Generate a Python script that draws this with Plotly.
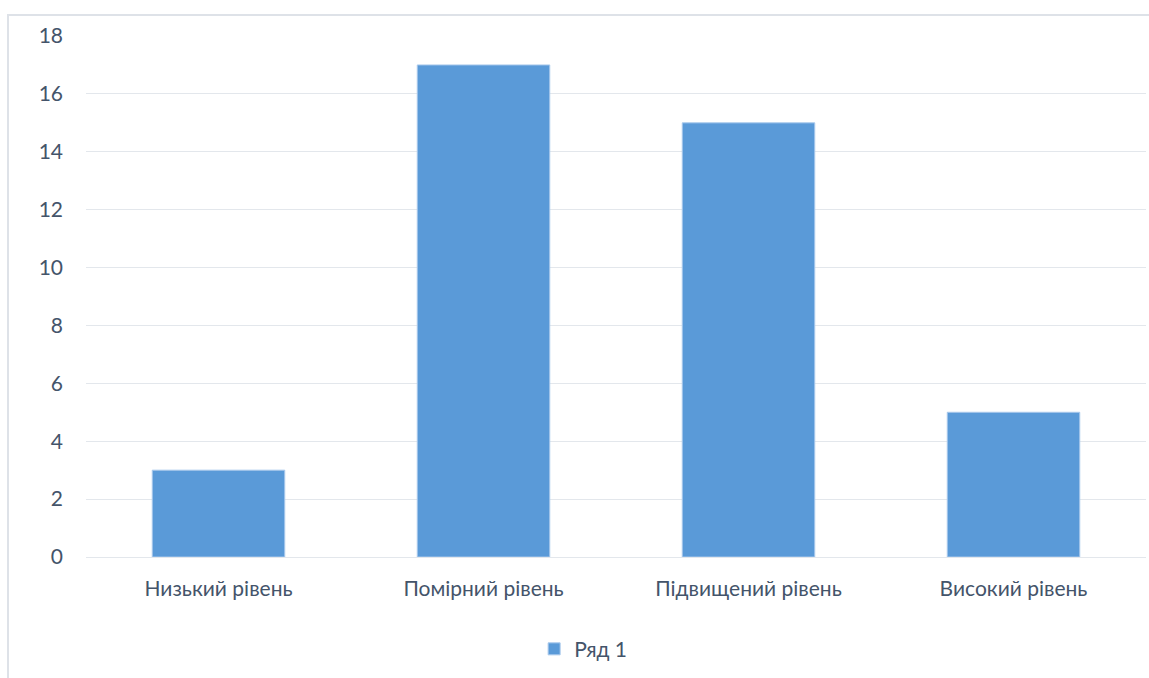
import plotly.graph_objects as go

categories = ["Низький рівень", "Помірний рівень", "Підвищений рівень", "Високий рівень"]
values = [3, 17, 15, 5]
series_name = "Ряд 1"
y_ticks = [0, 2, 4, 6, 8, 10, 12, 14, 16, 18]

text_color = "#44546A"
font_family = "Lato, Open Sans, sans-serif"

fig = go.Figure()
fig.add_trace(go.Bar(
    x=categories,
    y=values,
    name=series_name,
    width=0.5,
    marker=dict(color="#5A9AD8", line=dict(color="#A9C9EC", width=1)),
    showlegend=True,
))

fig.update_layout(
    width=1149,
    height=678,
    margin=dict(l=86, r=3, t=36, b=121),
    paper_bgcolor="white",
    plot_bgcolor="white",
    font=dict(family=font_family, color=text_color, size=21),
    showlegend=True,
    legend=dict(
        orientation="h",
        x=0.469, xanchor="center",
        y=-0.177, yanchor="middle",
        font=dict(size=21, color=text_color),
        itemwidth=30,
    ),
    xaxis=dict(
        showgrid=False,
        showline=False,
        zeroline=False,
        ticks="",
        ticklabelstandoff=17,
        tickfont=dict(size=21, color=text_color),
    ),
    yaxis=dict(
        range=[0, 18],
        tickvals=y_ticks,
        showgrid=True,
        gridcolor="#E3E7EC",
        gridwidth=1,
        zeroline=True,
        zerolinecolor="#E3E7EC",
        zerolinewidth=1,
        showline=False,
        ticks="",
        ticklabelstandoff=22,
        tickfont=dict(size=21, color=text_color),
    ),
    shapes=[
        dict(
            type="rect", xref="paper", yref="paper",
            x0=-0.0736, x1=1.05, y0=-0.30, y1=1.0403,
            line=dict(color="#DEE2E8", width=2),
            fillcolor="rgba(0,0,0,0)",
            layer="below",
        )
    ],
)

fig.write_html("out.html")
